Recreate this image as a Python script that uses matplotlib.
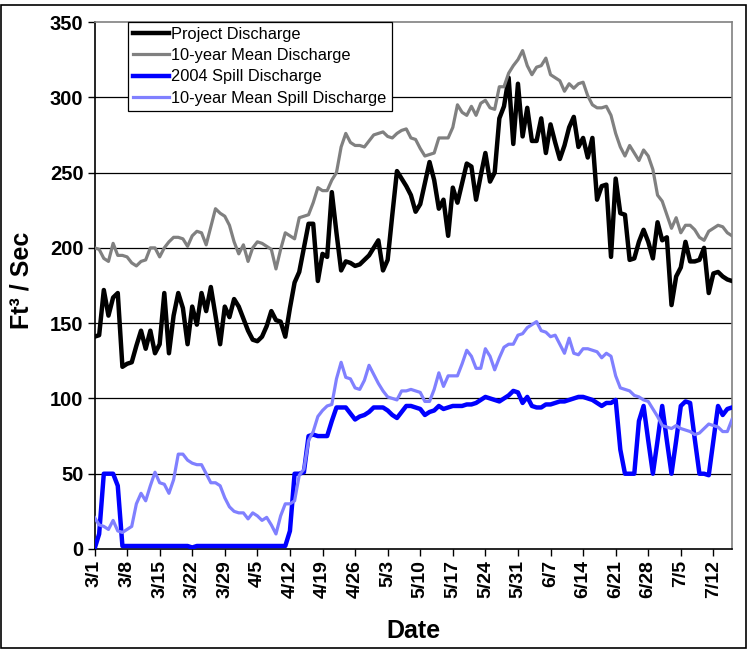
import matplotlib
matplotlib.use('Agg')
import matplotlib.pyplot as plt
import pandas as pd
from matplotlib.patches import Rectangle

# ---- data (daily, 3/1/2004 .. 7/16/2004) ----
dates = pd.date_range('2004-03-01', periods=138, freq='D')

project_discharge = [
    141, 142, 172, 155, 167, 170, 121, 123, 124, 135,
    145, 133, 145, 130, 136, 170, 130, 155, 170, 160,
    136, 161, 149, 170, 158, 174, 155, 136, 161, 154,
    166, 161, 153, 145, 139, 138, 141, 148, 158, 152,
    151, 141, 160, 177, 184, 200, 216, 216, 178, 196,
    194, 237, 210, 185, 191, 190, 188, 189, 192, 195,
    200, 205, 185, 192, 222, 251, 246, 241, 235, 224,
    229, 243, 257, 245, 226, 232, 208, 240, 230, 243,
    256, 254, 232, 248, 263, 244, 250, 286, 294, 313,
    269, 309, 274, 293, 271, 271, 286, 263, 282, 270,
    259, 268, 280, 287, 267, 273, 260, 273, 232, 241,
    242, 194, 246, 223, 222, 192, 193, 204, 212, 204,
    193, 217, 205, 207, 162, 181, 187, 204, 191, 191,
    192, 200, 170, 183, 184, 181, 179, 178]

mean_discharge_10yr = [
    200, 199, 193, 191, 203, 195, 195, 194, 190, 188,
    191, 192, 200, 200, 194, 200, 204, 207, 207, 206,
    201, 208, 211, 210, 202, 214, 226, 223, 221, 215,
    204, 196, 202, 191, 200, 204, 203, 201, 199, 186,
    199, 210, 208, 206, 220, 221, 222, 230, 240, 238,
    238, 245, 250, 267, 276, 270, 268, 268, 267, 271,
    275, 276, 277, 274, 273, 276, 278, 279, 273, 272,
    266, 261, 262, 263, 273, 273, 273, 280, 295, 290,
    288, 294, 288, 296, 298, 293, 292, 307, 307, 316,
    321, 325, 331, 321, 315, 320, 321, 326, 315, 313,
    311, 304, 309, 306, 309, 310, 301, 295, 293, 293,
    294, 288, 276, 267, 261, 268, 263, 258, 265, 261,
    252, 235, 231, 222, 213, 220, 210, 215, 215, 212,
    207, 205, 211, 213, 215, 214, 210, 208]

spill_2004 = [
    0, 10, 50, 50, 50, 42, 2, 2, 2, 2,
    2, 2, 2, 2, 2, 2, 2, 2, 2, 2,
    2, 1, 2, 2, 2, 2, 2, 2, 2, 2,
    2, 2, 2, 2, 2, 2, 2, 2, 2, 2,
    2, 2, 12, 50, 50, 51, 75, 76, 75, 75,
    75, 85, 94, 94, 94, 90, 86, 88, 89, 91,
    94, 94, 94, 92, 89, 87, 91, 95, 95, 94,
    93, 89, 91, 92, 95, 93, 94, 95, 95, 95,
    96, 96, 97, 99, 101, 100, 99, 98, 100, 102,
    105, 104, 97, 101, 95, 94, 94, 96, 96, 97,
    98, 98, 99, 100, 101, 101, 100, 99, 97, 95,
    97, 97, 99, 66, 50, 50, 50, 85, 95, 72,
    50, 72, 95, 72, 50, 72, 95, 98, 97, 73,
    50, 50, 49, 72, 95, 89, 93, 94]

mean_spill_10yr = [
    21, 16, 15, 13, 19, 12, 11, 13, 15, 30,
    37, 32, 42, 51, 44, 43, 37, 46, 63, 63,
    59, 57, 56, 56, 50, 44, 44, 42, 34, 28,
    25, 24, 24, 20, 24, 22, 19, 21, 16, 10,
    22, 30, 30, 32, 49, 53, 72, 78, 88, 92,
    95, 96, 113, 124, 114, 113, 107, 106, 112, 122,
    116, 110, 105, 101, 100, 99, 105, 105, 106, 105,
    104, 98, 98, 106, 117, 108, 115, 115, 115, 123,
    132, 128, 120, 120, 133, 128, 119, 127, 134, 136,
    136, 142, 143, 147, 149, 151, 145, 144, 141, 142,
    136, 130, 140, 130, 129, 133, 133, 132, 131, 127,
    130, 128, 115, 107, 106, 105, 102, 101, 99, 98,
    93, 88, 82, 81, 80, 82, 80, 79, 78, 76,
    77, 80, 83, 82, 81, 78, 78, 86]

series_labels = ['Project Discharge', '10-year Mean Discharge',
                 '2004 Spill Discharge', '10-year Mean Spill Discharge']
y_ticks = [0, 50, 100, 150, 200, 250, 300, 350]
x_tick_idx = list(range(0, 134, 7))
x_tick_labels = [f"{dates[i].month}/{dates[i].day}" for i in x_tick_idx]

plt.rcParams['font.family'] = ['Liberation Sans', 'DejaVu Sans']

W, H = 750, 651
fig = plt.figure(figsize=(W / 100, H / 100), dpi=100)
L, R, T, B = 94.5, 732, 22, 549
ax = fig.add_axes([L / W, 1 - B / H, (R - L) / W, (B - T) / H])

x = list(range(len(dates)))
ax.plot(x, project_discharge, color='black', lw=3.2, label=series_labels[0], zorder=3)
ax.plot(x, mean_discharge_10yr, color='#808080', lw=2.3, label=series_labels[1], zorder=3)
ax.plot(x, spill_2004, color='#0000FF', lw=3.2, label=series_labels[2], zorder=3)
ax.plot(x, mean_spill_10yr, color='#8080FF', lw=2.3, label=series_labels[3], zorder=3)

ax.set_xlim(0, len(dates) - 1)
ax.set_ylim(0, 350)
ax.set_yticks(y_ticks)
ax.set_yticklabels([str(v) for v in y_ticks], fontsize=14.5, fontweight='bold')
ax.set_xticks(x_tick_idx)
ax.set_xticklabels(x_tick_labels, rotation=90, fontsize=14, fontweight='bold')
ax.tick_params(axis='both', direction='out', length=5, width=1, color='black', pad=3)

for v in y_ticks[1:-1]:
    ax.axhline(v, color='black', lw=0.9, zorder=1)

ax.spines['left'].set_color('black')
ax.spines['bottom'].set_color('black')
ax.spines['left'].set_linewidth(1.2)
ax.spines['bottom'].set_linewidth(1.2)
ax.spines['top'].set_color('#808080')
ax.spines['right'].set_color('#808080')
ax.spines['top'].set_linewidth(1.2)
ax.spines['right'].set_linewidth(1.2)

leg = ax.legend(loc='upper left', bbox_to_anchor=((128 - L) / (R - L), 1.0),
                frameon=True, fancybox=False, edgecolor='black', fontsize=11.8,
                handlelength=2.2, borderaxespad=0, labelspacing=0.38,
                borderpad=0.3, handletextpad=0.15)
leg.get_frame().set_linewidth(0.9)
leg.get_frame().set_facecolor('white')
leg.get_frame().set_alpha(1)

fig.text(22 / W, 1 - 280 / H, 'Ft³ / Sec', rotation=90, fontsize=18,
         fontweight='bold', ha='center', va='center')
fig.text(413 / W, 1 - 631 / H, 'Date', fontsize=18, fontweight='bold',
         ha='center', va='center')

fig.patches.append(Rectangle((0.5 / W, 1 - 648 / H), 745 / W, (648 - 5) / H,
                             transform=fig.transFigure, fill=False,
                             edgecolor='black', lw=1.2))

fig.savefig('out.png', dpi=100)
